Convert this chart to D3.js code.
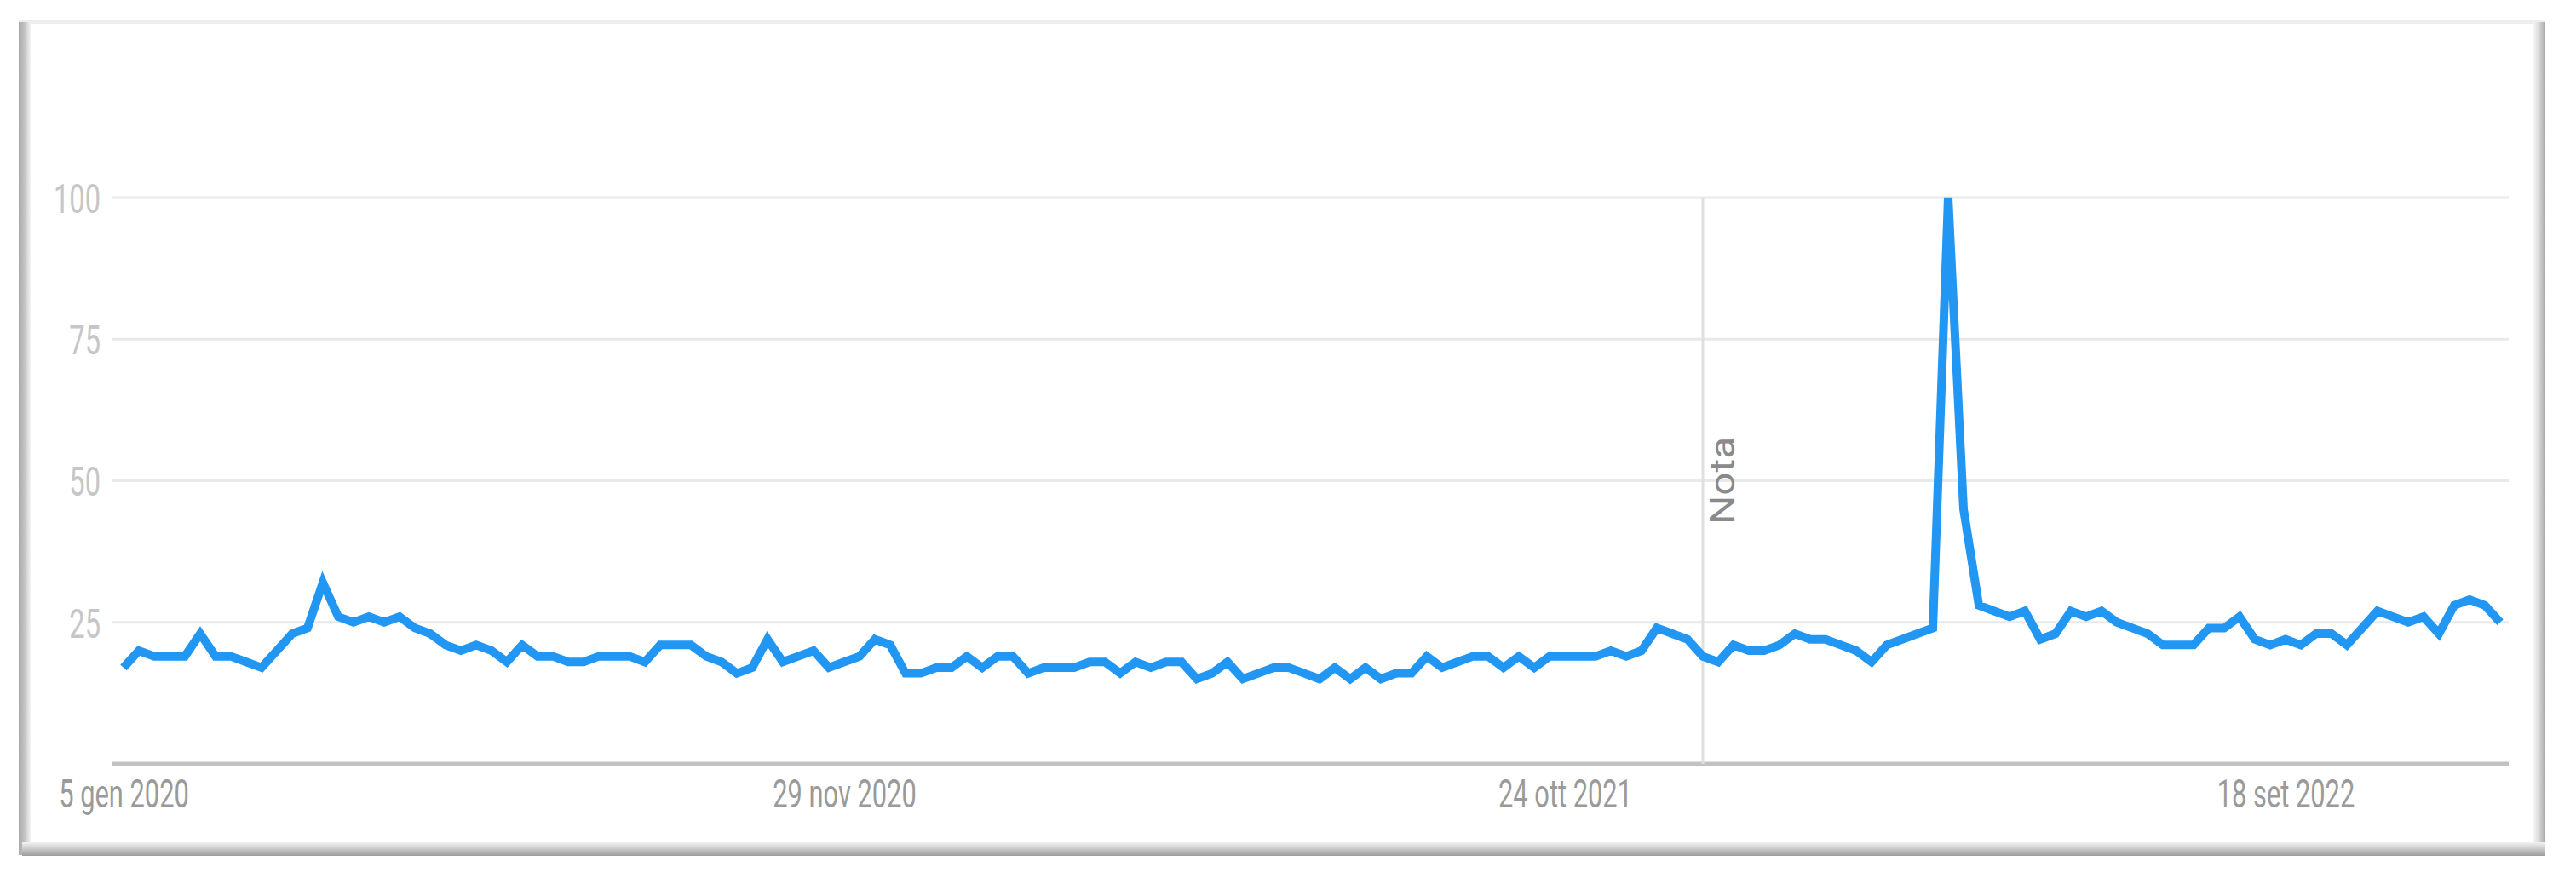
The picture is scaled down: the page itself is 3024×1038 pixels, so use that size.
<!DOCTYPE html>
<html>
<head>
<meta charset="utf-8">
<script src="https://cdn.jsdelivr.net/npm/d3@7"></script>
<style>
  html, body { margin: 0; padding: 0; background: #fff; }
  svg { display: block; }
  text { font-family: Roboto, "Noto Sans", Arial, sans-serif; }
</style>
</head>
<body>
<div id="chart"></div>
<script>
// weekly interest, 5 gen 2020 -> 25 dic 2022
const START_DATE = '2020-01-05'
const END_DATE = '2022-12-26'
const interest = [
  17, 20, 19, 19, 19, 23, 19, 19, 18, 17,
  20, 23, 24, 32, 26, 25, 26, 25, 26, 24,
  23, 21, 20, 21, 20, 18, 21, 19, 19, 18,
  18, 19, 19, 19, 18, 21, 21, 21, 19, 18,
  16, 17, 22, 18, 19, 20, 17, 18, 19, 22,
  21, 16, 16, 17, 17, 19, 17, 19, 19, 16,
  17, 17, 17, 18, 18, 16, 18, 17, 18, 18,
  15, 16, 18, 15, 16, 17, 17, 16, 15, 17,
  15, 17, 15, 16, 16, 19, 17, 18, 19, 19,
  17, 19, 17, 19, 19, 19, 19, 20, 19, 20,
  24, 23, 22, 19, 18, 21, 20, 20, 21, 23,
  22, 22, 21, 20, 18, 21, 22, 23, 24, 100,
  45, 28, 27, 26, 27, 22, 23, 27, 26, 27,
  25, 24, 23, 21, 21, 21, 24, 24, 26, 22,
  21, 22, 21, 23, 23, 21, 24, 27, 26, 25,
  26, 23, 28, 29, 28, 25
]
const xTickDates = ['2020-01-05', '2020-11-29', '2021-10-24', '2022-09-18']
const xTickLabels = ['5 gen 2020', '29 nov 2020', '24 ott 2021', '18 set 2022']
const yTicks = [25, 50, 75, 100]
const noteDate = '2021-12-26'
const noteLabel = 'Nota'

const W = 3024, H = 1038
const parse = d3.utcParse('%Y-%m-%d')
const weeks = d3.utcWeek.range(parse(START_DATE), parse(END_DATE))
const data = weeks.map((d, i) => ({ date: d, value: interest[i] }))

var svg = d3.select('#chart')
  .append('svg')
  .attr('width', W)
  .attr('height', H)

// panel with bevelled edges
var defs = svg.append('defs')
function grad(id, x1, y1, x2, y2, stops) {
  var g = defs.append('linearGradient').attr('id', id)
    .attr('x1', x1).attr('y1', y1).attr('x2', x2).attr('y2', y2)
  stops.forEach(s => g.append('stop').attr('offset', s[0]).attr('stop-color', s[1]))
}
grad('gl', 0, 0, 1, 0, [[0, '#a9a9a9'], [0.5, '#c4c4c4'], [1, '#f4f4f4']])
grad('gr', 0, 0, 1, 0, [[0, '#f6f6f6'], [0.5, '#d6d6d6'], [1, '#a8a8a8']])
grad('gb', 0, 0, 0, 1, [[0, '#f2f2f2'], [0.5, '#c8c8c8'], [1, '#9c9c9c']])

svg.append('rect').attr('x', 22).attr('y', 24).attr('width', 2966).attr('height', 981).attr('fill', '#fff')
svg.append('rect').attr('x', 22).attr('y', 24).attr('width', 2966).attr('height', 4).attr('fill', '#ededed')
svg.append('rect').attr('x', 22).attr('y', 26).attr('width', 14).attr('height', 978).attr('fill', 'url(#gl)')
svg.append('rect').attr('x', 2974).attr('y', 26).attr('width', 14).attr('height', 978).attr('fill', 'url(#gr)')
svg.append('rect').attr('x', 26).attr('y', 989).attr('width', 2962).attr('height', 16).attr('fill', 'url(#gb)')

var x = d3.scaleUtc()
  .domain(d3.extent(weeks))
  .range([145, 2935])

var y = d3.scaleLinear()
  .domain([0, 100])
  .range([897, 232])

var plotLeft = 132, plotRight = 2945

// horizontal grid
svg.append('g')
  .selectAll('line')
  .data(yTicks)
  .enter()
  .append('line')
  .attr('x1', plotLeft)
  .attr('x2', plotRight)
  .attr('y1', d => y(d))
  .attr('y2', d => y(d))
  .attr('stroke', '#e9e9e9')
  .attr('stroke-width', 3)

// baseline
svg.append('line')
  .attr('x1', plotLeft)
  .attr('x2', plotRight)
  .attr('y1', y(0))
  .attr('y2', y(0))
  .attr('stroke', '#c2c2c2')
  .attr('stroke-width', 5)

// note marker
var noteX = x(parse(noteDate))
svg.append('line')
  .attr('x1', noteX)
  .attr('x2', noteX)
  .attr('y1', y(100))
  .attr('y2', y(0))
  .attr('stroke', '#e0e0e0')
  .attr('stroke-width', 3)

svg.append('text')
  .attr('transform', 'translate(' + (noteX + 37) + ',616) scale(0.85,1) rotate(-90)')
  .attr('font-size', 48)
  .attr('fill', '#8a8a8a')
  .text(noteLabel)

// y axis labels
var yAxis = d3.axisLeft(y)
  .tickValues(yTicks)
  .tickSize(0)
  .tickFormat(d3.format('d'))

var gy = svg.append('g')
  .attr('transform', 'translate(' + plotLeft + ',0)')
  .call(yAxis)
gy.select('.domain').remove()
gy.selectAll('text')
  .attr('x', 0)
  .attr('dy', '0.36em')
  .attr('transform', 'translate(-14,0) scale(0.68,1)')
  .attr('font-size', 48)
  .attr('font-family', 'Roboto, Arial, sans-serif')
  .attr('fill', '#c6c6c6')

// x axis labels
var xAxis = d3.axisBottom(x)
  .tickValues(xTickDates.map(parse))
  .tickSize(0)
  .tickFormat((d, i) => xTickLabels[i])

var gx = svg.append('g')
  .attr('transform', 'translate(0,' + y(0) + ')')
  .call(xAxis)
gx.select('.domain').remove()
gx.selectAll('text')
  .attr('y', 51)
  .attr('dy', null)
  .attr('transform', 'scale(0.67,1)')
  .attr('font-size', 46)
  .attr('font-family', 'Roboto, Arial, sans-serif')
  .attr('fill', '#9a9a9a')

// series
var line = d3.line()
  .x(d => x(d.date))
  .y(d => y(d.value))

svg.append('path')
  .datum(data)
  .attr('d', line)
  .attr('fill', 'none')
  .attr('stroke', '#2196f3')
  .attr('stroke-width', 10)
  .attr('stroke-linejoin', 'miter')
</script>
</body>
</html>
